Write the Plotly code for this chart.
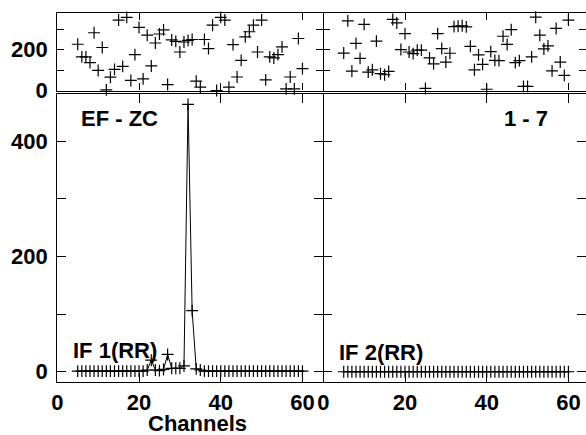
import plotly.graph_objects as go

# ---- data ----
channels = list(range(5, 61))

phase_if1 = [226, 164, 164, 136, 282, 98, 210, 3, 65, 103, 344, 118, 357, 49, 175, 308,
             57, 270, 120, 232, 276, 296, 29, 247, 240, 188, 237, 245, 249, 46, 16, 249,
             205, 319, 0, 357, 344, 16, 224, 66, 147, 262, 287, 319, 188, 344, 52, 164,
             159, 175, 213, 8, 66, 8, 254, 107]

phase_if2 = [183, 340, 95, 230, 157, 323, 90, 101, 241, 82, 77, 93, 347, 330, 200, 278,
             188, 180, 197, 197, 10, 159, 130, 278, 205, 139, 182, 312, 314, 316, 311, 216,
             101, 174, 128, 6, 190, 147, 146, 265, 225, 297, 136, 146, 20, 20, 164, 358,
             270, 203, 218, 96, 303, 139, 74, 344]

amp_if1 = [1, 1, 1, 1, 1, 1, 1, 1, 1, 1, 1, 1, 1, 1, 1, 1, 1,
           3, 20, 3, 2, 4, 30, 6, 6, 6, 10, 464, 106, 5, 3,
           1, 1, 1, 1, 1, 1, 1, 1, 1, 1, 1, 1, 1, 1, 1, 1, 1, 1, 1, 1, 1, 1, 1, 1, 1]

amp_if2 = [0, 0, 0, 0, 0, 0, 0, 0, 0, 0, 0, 0, 0, 0, 0, 0, 0, 0, 0, 0, 0, 0, 0, 0, 0, 0, 0, 0,
           0, 0, 0, 0, 0, 0, 0, 0, 0, 0, 0, 0, 0, 0, 0, 0, 0, 0, 0, 0, 0, 0, 0, 0, 0, 0, 0, 0]

x_ticks = [0, 20, 40, 60]
amp_ticks = [0, 100, 200, 300, 400]
amp_ticktext = ["0", "", "200", "", "400"]
phase_ticks = [0, 100, 200, 300]
phase_ticktext = ["0", "", "200", ""]

W, H = 586, 435
FONT = dict(family="Liberation Sans, Arial, sans-serif", size=22, color="black", weight=700)

marker = dict(symbol="cross-thin", size=8.5, color="black", line=dict(width=1.2, color="black"))

fig = go.Figure()
fig.add_trace(go.Scatter(x=channels, y=amp_if1, mode="lines+markers", xaxis="x", yaxis="y",
                         line=dict(color="black", width=1), marker=marker))
fig.add_trace(go.Scatter(x=channels, y=amp_if2, mode="lines+markers", xaxis="x2", yaxis="y2",
                         line=dict(color="black", width=1), marker=marker))
fig.add_trace(go.Scatter(x=channels, y=phase_if1, mode="markers", xaxis="x3", yaxis="y3",
                         marker=marker, cliponaxis=False))
fig.add_trace(go.Scatter(x=channels, y=phase_if2, mode="markers", xaxis="x4", yaxis="y4",
                         marker=marker, cliponaxis=False))

xl = 57.3 / W
xm = 323.3 / W
bot_dom = [(H - 381.7) / H, (H - 93.8) / H]
top_dom = [(H - 90.5) / H, (H - 12.7) / H]
px_per_unit = 4.085
right_range = (W - 323.3) / px_per_unit

axis_common = dict(showgrid=False, zeroline=False, ticks="inside", linecolor="black",
                   linewidth=1.3, tickcolor="black", tickwidth=1.2, tickfont=FONT,
                   automargin=False)

fig.update_layout(
    template="none",
    width=W, height=H,
    margin=dict(l=0, r=0, t=0, b=0, pad=0, autoexpand=False),
    paper_bgcolor="white", plot_bgcolor="white",
    showlegend=False,
    xaxis=dict(axis_common, domain=[xl, xm], anchor="y", range=[0, 65.1],
               tickvals=x_ticks, ticklen=9, showline=True, mirror="ticks",
               ticklabelstandoff=1),
    yaxis=dict(axis_common, domain=bot_dom, anchor="x", range=[-17.3, 482.5],
               tickvals=amp_ticks, ticktext=amp_ticktext, ticklen=9, showline=True,
               mirror="ticks", ticklabelstandoff=4),
    xaxis2=dict(axis_common, domain=[xm, 1.0], anchor="y2", range=[0, right_range],
                tickvals=x_ticks, ticklen=9, showline=True, mirror="ticks",
                ticklabelstandoff=1),
    yaxis2=dict(axis_common, domain=bot_dom, anchor="x2", range=[-17.3, 482.5],
                tickvals=amp_ticks, ticklen=9, showline=False, mirror="ticks",
                showticklabels=False),
    xaxis3=dict(axis_common, domain=[xl, xm], anchor="y3", range=[0, 65.1],
                tickvals=x_ticks, ticklen=7, showline=True, mirror="ticks",
                showticklabels=False),
    yaxis3=dict(axis_common, domain=top_dom, anchor="x3", range=[0, 380],
                tickvals=phase_ticks, ticktext=phase_ticktext, ticklen=7, showline=True,
                mirror="ticks", ticklabelstandoff=4),
    xaxis4=dict(axis_common, domain=[xm, 1.0], anchor="y4", range=[0, right_range],
                tickvals=x_ticks, ticklen=7, showline=True, mirror="ticks",
                showticklabels=False),
    yaxis4=dict(axis_common, domain=top_dom, anchor="x4", range=[0, 380],
                tickvals=phase_ticks, ticklen=7, showline=False, mirror="ticks",
                showticklabels=False),
)

def ann(text, x_px, y_px, xanchor):
    fig.add_annotation(text=text, xref="paper", yref="paper", x=x_px / W, y=(H - y_px) / H,
                       xanchor=xanchor, yanchor="middle", showarrow=False, font=FONT,
                       borderpad=0)

ann("EF - ZC", 80.0, 118, "left")
ann("1 - 7", 549.0, 118, "right")
ann("IF 1(RR)", 72.0, 350, "left")
ann("IF 2(RR)", 337.5, 352, "left")
ann("Channels", 198.0, 423, "center")

fig.write_html("out.html", config={"displayModeBar": False},
               post_script="document.body.style.margin='0px';"
                           "document.body.style.overflow='hidden';")
